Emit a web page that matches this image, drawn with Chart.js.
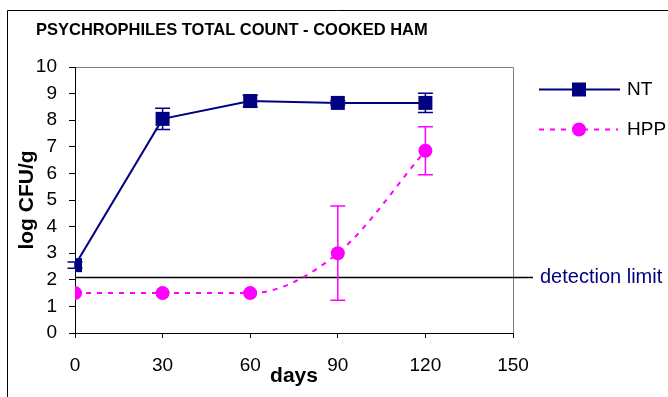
<!DOCTYPE html>
<html>
<head>
<meta charset="utf-8">
<script src="https://cdn.jsdelivr.net/npm/chart.js@4.4.0/dist/chart.umd.min.js"></script>
<style>
  html, body { margin: 0; padding: 0; background: #fff; }
  #wrap { width: 668px; height: 397px; position: relative; }
</style>
</head>
<body>
<div id="wrap"><canvas id="chart"></canvas></div>
<script>
// data
const days = [0, 30, 60, 90, 120];
const ntValues = [2.55, 8.05, 8.72, 8.65, 8.65];
const ntErrors = [0.12, 0.4, 0.22, 0.08, 0.36];
const hppValues = [1.5, 1.5, 1.5, 3.0, 6.85];
const hppErrors = [0, 0, 0, 1.77, 0.9];
const detectionLimit = 2.1;
const xTicks = [0, 30, 60, 90, 120, 150];
const yTicks = [0, 1, 2, 3, 4, 5, 6, 7, 8, 9, 10];

const NAVY = '#000080';
const PINK = '#FF00FF';
const FONT = 'Liberation Sans, Arial, sans-serif';

const ntData = days.map((d, i) => ({ x: d, y: ntValues[i] }));
const hppData = days.map((d, i) => ({ x: d, y: hppValues[i] }));

// error bars, drawn under the markers
const errorBars = {
  id: 'errorBars',
  beforeDatasetsDraw(chart) {
    const ctx = chart.ctx;
    const x = chart.scales.x, y = chart.scales.y;
    const sets = [[ntErrors, ntValues, NAVY], [hppErrors, hppValues, PINK]];
    ctx.save();
    sets.forEach(([errs, vals, col]) => {
      ctx.strokeStyle = col;
      ctx.lineWidth = 1.5;
      days.forEach((d, i) => {
        if (!errs[i]) return;
        const px = x.getPixelForValue(d);
        const top = y.getPixelForValue(vals[i] + errs[i]);
        const bot = y.getPixelForValue(vals[i] - errs[i]);
        ctx.beginPath();
        ctx.moveTo(px, top); ctx.lineTo(px, bot);
        ctx.moveTo(px - 7.5, top); ctx.lineTo(px + 7.5, top);
        ctx.moveTo(px - 7.5, bot); ctx.lineTo(px + 7.5, bot);
        ctx.stroke();
      });
    });
    ctx.restore();
  }
};

// frame, title, detection limit and legend
const extras = {
  id: 'extras',
  beforeDraw(chart) {
    const ctx = chart.ctx;
    const a = chart.chartArea;
    ctx.save();
    ctx.strokeStyle = '#000';
    ctx.lineWidth = 1;
    ctx.beginPath();
    ctx.moveTo(7.5, 397); ctx.lineTo(7.5, 10.5); ctx.lineTo(668, 10.5);
    ctx.stroke();
    ctx.strokeStyle = '#808080';
    ctx.beginPath();
    ctx.moveTo(a.left, a.top + 0.5); ctx.lineTo(a.right + 0.5, a.top + 0.5); ctx.lineTo(a.right + 0.5, a.bottom);
    ctx.stroke();

    ctx.fillStyle = '#000';
    ctx.font = 'bold 16.5px ' + FONT;
    ctx.textBaseline = 'middle';
    ctx.fillText('PSYCHROPHILES TOTAL COUNT - COOKED HAM', 36, 30);

    const dy = Math.round(chart.scales.y.getPixelForValue(detectionLimit)) + 0.5;
    ctx.strokeStyle = '#000';
    ctx.lineWidth = 1.3;
    ctx.beginPath();
    ctx.moveTo(a.left, dy); ctx.lineTo(a.right + 20, dy);
    ctx.stroke();
    ctx.fillStyle = NAVY;
    ctx.font = '20px ' + FONT;
    ctx.fillText('detection limit', 540, dy);
    ctx.restore();
  },
  afterDraw(chart) {
    const ctx = chart.ctx;
    ctx.save();
    ctx.textBaseline = 'middle';
    ctx.font = '19px ' + FONT;
    // NT
    ctx.strokeStyle = NAVY; ctx.lineWidth = 2;
    ctx.beginPath(); ctx.moveTo(539, 89.5); ctx.lineTo(620, 89.5); ctx.stroke();
    ctx.fillStyle = NAVY;
    ctx.fillRect(572, 82.5, 14, 14);
    ctx.fillStyle = '#000';
    ctx.fillText('NT', 627, 90);
    // HPP
    ctx.strokeStyle = PINK; ctx.lineWidth = 2;
    ctx.setLineDash([5, 6]);
    ctx.beginPath(); ctx.moveTo(539, 129.5); ctx.lineTo(618, 129.5); ctx.stroke();
    ctx.setLineDash([]);
    ctx.fillStyle = PINK;
    ctx.beginPath(); ctx.arc(579, 129.5, 7, 0, Math.PI * 2); ctx.fill();
    ctx.fillStyle = '#000';
    ctx.fillText('HPP', 627, 130);
    ctx.restore();
  }
};

const config = {
  type: 'line',
  data: {
    datasets: [{
      label: 'NT',
      data: ntData,
      borderColor: NAVY,
      backgroundColor: NAVY,
      borderWidth: 2,
      pointStyle: 'rect',
      pointRadius: 9.9,
      pointBorderWidth: 0,
      tension: 0
    }, {
      label: 'HPP',
      data: hppData,
      borderColor: PINK,
      backgroundColor: PINK,
      borderWidth: 2,
      borderDash: [5, 6],
      pointStyle: 'circle',
      pointRadius: 7,
      pointBorderWidth: 0,
      cubicInterpolationMode: 'monotone'
    }]
  },
  options: {
    responsive: true,
    maintainAspectRatio: false,
    animation: false,
    layout: { padding: { top: 67, right: 155, bottom: 0, left: 0 } },
    plugins: {
      legend: { display: false },
      tooltip: { enabled: false }
    },
    scales: {
      x: {
        type: 'linear',
        min: 0,
        max: 150,
        afterBuildTicks: s => { s.ticks = xTicks.map(v => ({ value: v })); },
        afterFit: s => { s.height = 64; },
        grid: { drawOnChartArea: false, color: '#000', tickLength: 5 },
        border: { color: '#000', width: 1 },
        ticks: { color: '#000', padding: 16, font: { family: FONT, size: 19 }, maxRotation: 0 },
        title: { display: true, text: 'days', color: '#000', padding: { top: 0, bottom: 8 }, font: { family: FONT, size: 21, weight: 'bold' } }
      },
      y: {
        min: 0,
        max: 10,
        afterBuildTicks: s => { s.ticks = yTicks.map(v => ({ value: v })); },
        afterFit: s => { s.width = 75; },
        grid: { drawOnChartArea: false, color: '#000', tickLength: 6 },
        border: { color: '#000', width: 1 },
        ticks: { color: '#000', padding: 12, font: { family: FONT, size: 19 } },
        title: { display: true, text: 'log CFU/g', color: '#000', padding: { top: 15, bottom: 0 }, font: { family: FONT, size: 21, weight: 'bold' } }
      }
    }
  },
  plugins: [extras, errorBars]
};

new Chart(document.getElementById('chart'), config);
</script>
</body>
</html>
